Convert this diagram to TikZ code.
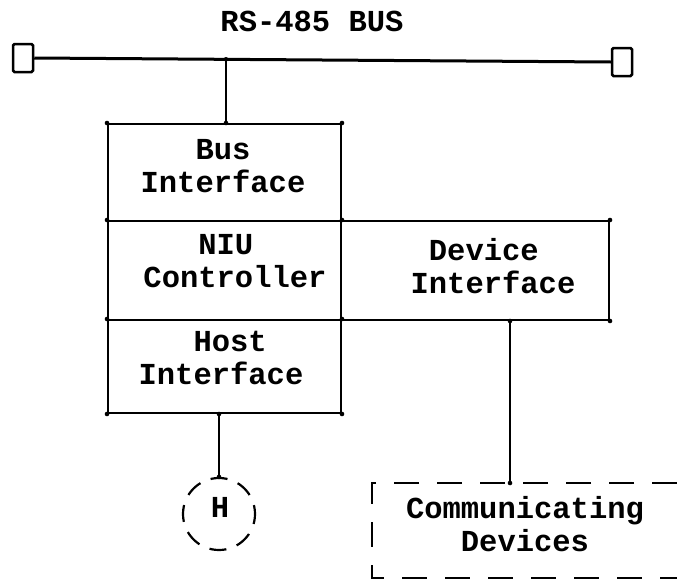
\documentclass[tikz,border=0pt]{standalone}
\usepackage{fontspec}
\newfontfamily\typ{Liberation Mono}
\begin{document}
\begin{tikzpicture}[x=1pt,y=-1pt,
  ln/.style={line width=2pt},
  blk/.style={draw,line width=2pt,rectangle,inner sep=0pt,anchor=north west},
  txt/.style={inner sep=0pt,align=left,font=\typ\bfseries\fontsize{30.5}{33}\selectfont},
  sq/.style={draw,line width=2.5pt,rectangle,inner sep=0pt,minimum width=20pt,minimum height=28pt,rounded corners=1.5pt},
  busln/.style={line width=3pt},
  dsh/.style={line width=2pt,dash pattern=on 25pt off 18pt},
  hc/.style={draw,circle,line width=2.2pt,inner sep=0pt,minimum size=72pt,dash pattern=on 17pt off 11pt,dash phase=8pt},
  dot/.style={fill=black}]
\useasboundingbox (0,0) rectangle (677,584);

% title
\node[txt] (title) at (312,21) {RS-485 BUS};

% bus with terminators
\node[sq] (lend) at (23,58) {};
\node[sq] (rend) at (622,62) {};
\draw[busln] (lend.east) -- (rend.west);
\coordinate (tap) at (226,59.3);

% NIU stack
\node[blk,minimum width=233pt,minimum height=97pt] (busif) at (107,123) {};
\node[blk,minimum width=233pt,minimum height=99pt] (niu) at (107,220) {};
\node[blk,minimum width=233pt,minimum height=93pt] (host) at (107,319) {};
\node[blk,minimum width=268pt,minimum height=99pt] (dev) at (340,220) {};

\node[txt] (tbus) at (223,166) {\hphantom{XXX}Bus\\Interface};
\node[txt] (tniu) at (235,261.5) {\hphantom{XXX}NIU\\Controller};
\node[txt] (thost) at (221,357.5) {\hphantom{XXX}Host\\Interface};
\node[txt] (tdev) at (493,266.5) {\hphantom{X}Device\\Interface};

% connection bus -> bus interface
\draw[ln] (tap) -- (tap |- busif.north);

% host circle
\node[hc] (H) at (219,514) {};
\node[txt] (Hl) at (220,507) {H};
\draw[ln] (H.north) -- (H.north |- host.south);

% communicating devices (dashed frame, open at the page edge)
\coordinate (ctop) at (510,483);
\draw[dsh] (677,483) -- (372,483) -- (372,578) -- (677,578);
\node[txt] (tcomm) at (525,524.5) {Communicating\\\hphantom{XXX}Devices};
\draw[ln] (ctop |- dev.south) -- (ctop);

% plotter dots at corners and junctions
\foreach \p in {(tap),(tap |- busif.north),(busif.north west),(busif.north east),
  (niu.north west),(niu.north east),(host.north west),(host.north east),
  (host.south west),(host.south east),(dev.north east),(dev.south east),
  (H.north |- host.south),(H.north),(ctop |- dev.south),(ctop)}
  \fill[dot] \p circle (2.3pt);
\end{tikzpicture}
\end{document}
